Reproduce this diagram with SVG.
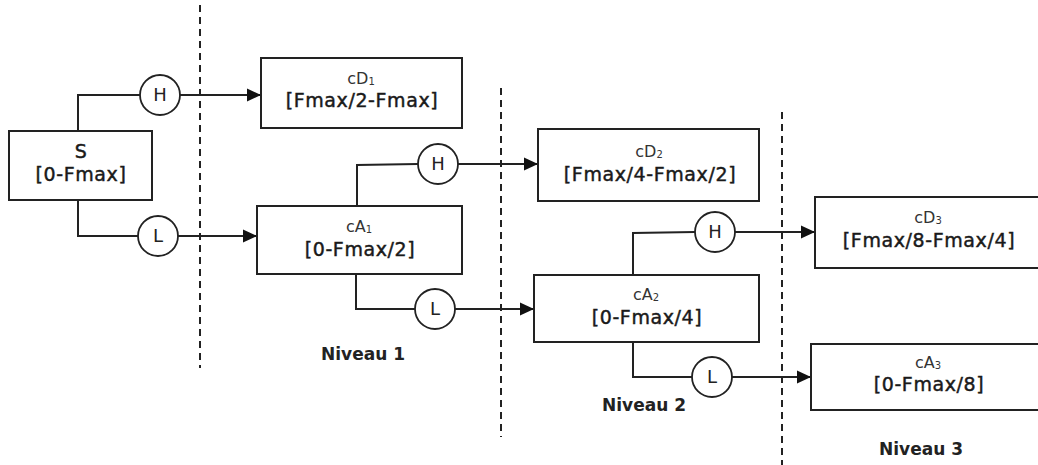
<svg xmlns="http://www.w3.org/2000/svg" width="1038" height="465" viewBox="0 0 1038 465">
<style>
.box{fill:#fff;stroke:#222;stroke-width:2}
.flt{fill:#fff;stroke:#222;stroke-width:1.8}
.ln{fill:none;stroke:#222;stroke-width:2}
.dash{fill:none;stroke:#222;stroke-width:2;stroke-dasharray:7 5}
.main{font-family:"DejaVu Sans",sans-serif;font-size:19px;letter-spacing:0.6px;fill:#1a1a1a;stroke:#1a1a1a;stroke-width:0.45;text-anchor:middle}
.sub{font-family:"DejaVu Sans",sans-serif;font-size:16px;fill:#333;text-anchor:middle}
.idx{font-size:10px}
.ft{font-family:"DejaVu Sans",sans-serif;font-size:18px;fill:#222;text-anchor:middle}
.lvl{font-family:"DejaVu Sans",sans-serif;font-size:17px;font-weight:bold;fill:#222;text-anchor:middle}
</style>
<defs>
<marker id="arr" markerUnits="userSpaceOnUse" markerWidth="14" markerHeight="14" viewBox="0 0 14 14" refX="14" refY="7" orient="auto">
<path d="M0,0.5 L14,7 L0,13.5 Z" fill="#111"/>
</marker>
</defs>
<rect width="1038" height="465" fill="#fff"/>
<g id="separators">
<line class="dash" x1="200" y1="5" x2="200" y2="368"/>
<line class="dash" x1="501" y1="88" x2="501" y2="437"/>
<line class="dash" x1="782" y1="112" x2="782" y2="465"/>
</g>
<g id="connectors">
<polyline class="ln" points="78,131 78,95 140,95"/>
<line class="ln" x1="180" y1="95" x2="261" y2="95" marker-end="url(#arr)"/>
<polyline class="ln" points="78,200 78,236 138,236"/>
<line class="ln" x1="178" y1="236" x2="257" y2="236" marker-end="url(#arr)"/>
<polyline class="ln" points="357,206 357,165 418,164"/>
<line class="ln" x1="458" y1="164" x2="538" y2="164" marker-end="url(#arr)"/>
<polyline class="ln" points="356,274 356,309 415,309"/>
<line class="ln" x1="455" y1="309" x2="534" y2="309" marker-end="url(#arr)"/>
<polyline class="ln" points="633,275 633,233 695,232"/>
<line class="ln" x1="735" y1="232" x2="815" y2="232" marker-end="url(#arr)"/>
<polyline class="ln" points="633,342 633,377 692,377"/>
<line class="ln" x1="732" y1="377" x2="811" y2="377" marker-end="url(#arr)"/>
</g>
<g id="filters">
<g id="H1"><circle class="flt" cx="160" cy="95" r="20"/><text class="ft" x="160" y="101">H</text></g>
<g id="L1"><circle class="flt" cx="158" cy="236" r="20"/><text class="ft" x="158" y="242">L</text></g>
<g id="H2"><circle class="flt" cx="438" cy="164" r="20"/><text class="ft" x="438" y="170">H</text></g>
<g id="L2"><circle class="flt" cx="435" cy="309" r="20"/><text class="ft" x="435" y="315">L</text></g>
<g id="H3"><circle class="flt" cx="715" cy="232" r="20"/><text class="ft" x="715" y="238">H</text></g>
<g id="L3"><circle class="flt" cx="712" cy="377" r="20"/><text class="ft" x="712" y="383">L</text></g>
</g>
<g id="S">
<rect class="box" x="9" y="131" width="143" height="69"/>
<text class="main" x="81" y="158">S</text>
<text class="main" x="81" y="181">[0-Fmax]</text>
</g>
<g id="cD1">
<rect class="box" x="261" y="58" width="201" height="70"/>
<text class="sub" x="361" y="84">cD<tspan class="idx" dy="1">1</tspan></text>
<text class="main" x="362" y="107">[Fmax/2-Fmax]</text>
</g>
<g id="cA1">
<rect class="box" x="257" y="206" width="205" height="68"/>
<text class="sub" x="359" y="232">cA<tspan class="idx" dy="1">1</tspan></text>
<text class="main" x="360" y="256">[0-Fmax/2]</text>
</g>
<g id="cD2">
<rect class="box" x="538" y="129" width="221" height="72"/>
<text class="sub" x="649" y="157">cD<tspan class="idx" dy="1">2</tspan></text>
<text class="main" x="650" y="181">[Fmax/4-Fmax/2]</text>
</g>
<g id="cA2">
<rect class="box" x="534" y="275" width="225" height="67"/>
<text class="sub" x="646" y="300">cA<tspan class="idx" dy="1">2</tspan></text>
<text class="main" x="647" y="324">[0-Fmax/4]</text>
</g>
<g id="cD3">
<rect class="box" x="815" y="197" width="228" height="71"/>
<text class="sub" x="928" y="223">cD<tspan class="idx" dy="1">3</tspan></text>
<text class="main" x="929" y="247">[Fmax/8-Fmax/4]</text>
</g>
<g id="cA3">
<rect class="box" x="811" y="344" width="232" height="66"/>
<text class="sub" x="928" y="368">cA<tspan class="idx" dy="1">3</tspan></text>
<text class="main" x="929" y="391">[0-Fmax/8]</text>
</g>
<g id="levels">
<text class="lvl" x="363" y="360">Niveau 1</text>
<text class="lvl" x="644" y="411">Niveau 2</text>
<text class="lvl" x="921" y="455">Niveau 3</text>
</g>
</svg>
